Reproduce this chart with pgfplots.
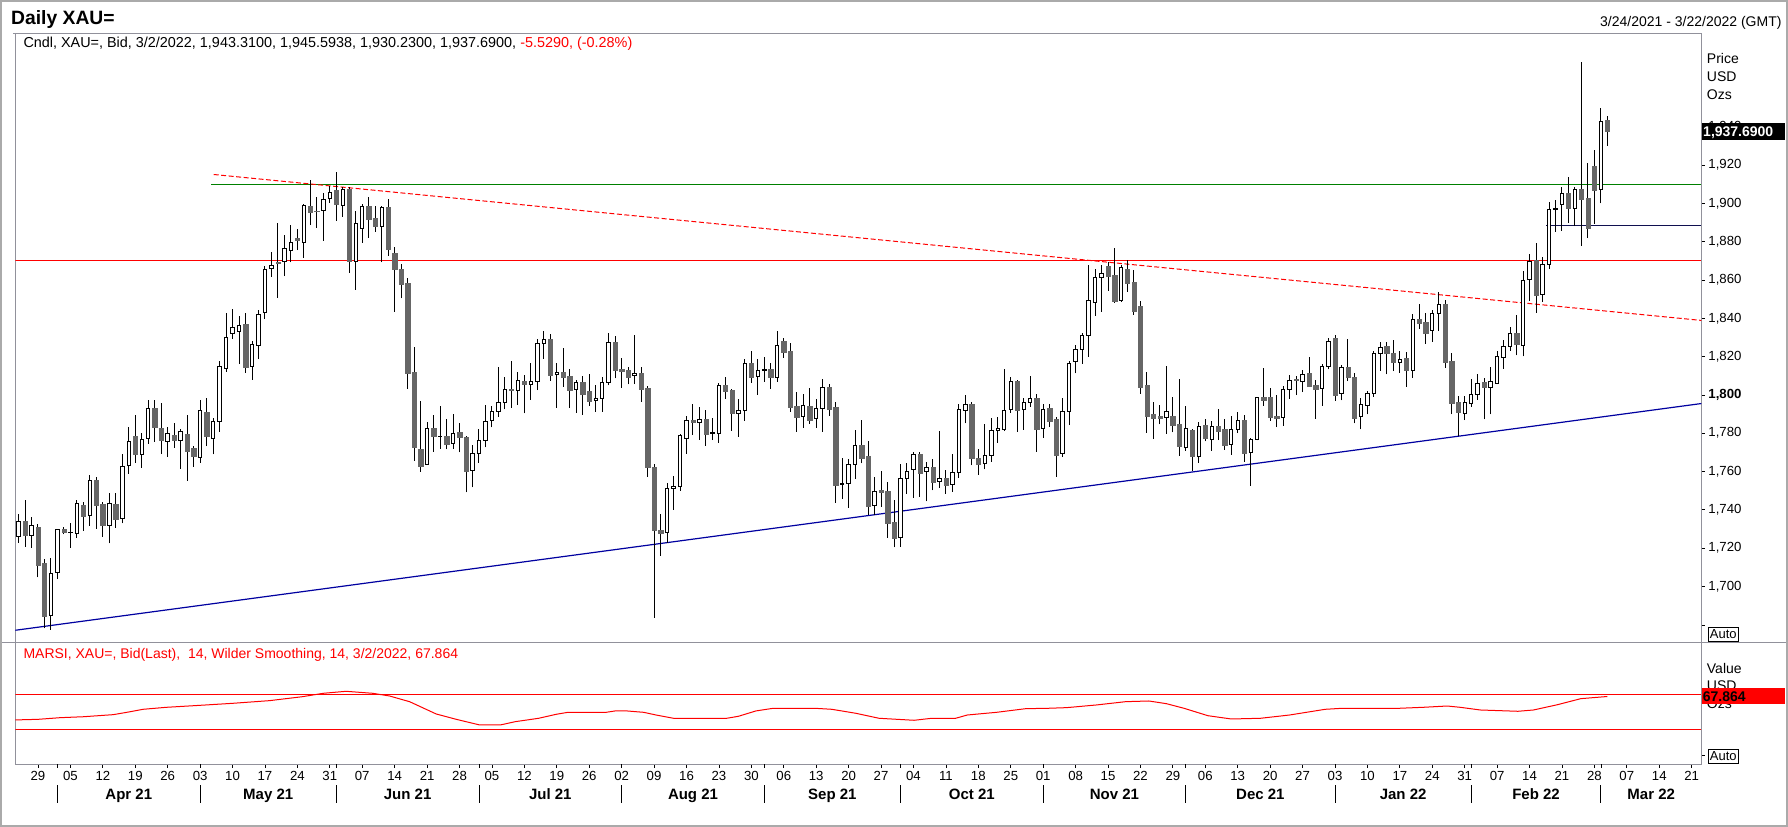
\documentclass[border=0pt]{standalone}
\usepackage{pgfplots}
\pgfplotsset{compat=1.18}
\usepackage{pgfplotstable}
\usepackage{fontspec}
\setmainfont{Liberation Sans}
\definecolor{candlegray}{RGB}{102,102,102}
\definecolor{framegray}{RGB}{145,145,155}
\definecolor{bordergray}{RGB}{170,170,170}
\definecolor{tlgreen}{RGB}{0,128,0}
\definecolor{tlblue}{RGB}{0,0,160}
\definecolor{tlnavy}{RGB}{16,16,80}

\pgfplotstableread{
i o h l c
0 1726.3 1737.8 1722.8 1734.1
1 1734.1 1745.1 1720.7 1726.5
2 1726.6 1736.2 1720.2 1731.9
3 1731.0 1732.6 1704.7 1711.3
4 1712.2 1714.3 1678.1 1684.2
5 1684.9 1714.6 1677.5 1706.8
6 1707.3 1729.9 1704.0 1729.9
7 1729.9 1731.0 1727.2 1728.5
8 1728.2 1732.9 1720.2 1728.4
9 1727.7 1745.1 1725.4 1743.5
10 1742.5 1744.0 1729.1 1736.9
11 1736.9 1758.1 1731.7 1755.4
12 1755.4 1757.1 1730.1 1742.6
13 1742.8 1744.2 1725.9 1732.2
14 1731.9 1748.7 1722.5 1743.5
15 1743.0 1748.7 1730.6 1735.3
16 1735.3 1769.1 1732.9 1762.7
17 1763.2 1783.2 1758.8 1775.7
18 1778.5 1789.5 1764.6 1768.8
19 1768.9 1779.9 1762.0 1776.8
20 1777.3 1797.3 1774.5 1793.0
21 1793.0 1797.3 1775.5 1783.4
22 1782.7 1795.7 1769.1 1776.6
23 1775.5 1783.2 1767.7 1779.9
24 1779.0 1785.3 1772.4 1776.1
25 1776.1 1782.2 1761.4 1780.9
26 1779.5 1789.5 1755.2 1770.8
27 1772.2 1773.3 1762.5 1768.2
28 1767.4 1797.3 1764.6 1791.9
29 1791.0 1798.3 1773.3 1778.2
30 1777.3 1787.7 1768.9 1786.1
31 1786.1 1817.5 1780.8 1814.9
32 1813.8 1842.7 1812.1 1830.2
33 1832.1 1844.8 1829.3 1835.4
34 1833.2 1841.2 1816.1 1836.5
35 1837.0 1842.7 1811.6 1814.7
36 1814.7 1827.9 1807.9 1826.5
37 1825.8 1844.6 1818.9 1842.2
38 1843.1 1867.4 1839.8 1865.7
39 1866.2 1874.6 1861.7 1867.6
40 1869.2 1889.9 1850.7 1868.7
41 1869.7 1883.5 1862.0 1876.5
42 1875.6 1888.7 1869.2 1879.6
43 1881.9 1886.6 1875.6 1880.7
44 1879.6 1899.6 1871.6 1898.9
45 1898.6 1912.2 1888.7 1895.6
46 1896.0 1903.1 1887.3 1895.8
47 1896.3 1905.4 1880.5 1902.1
48 1902.6 1909.0 1900.3 1905.9
49 1906.9 1916.3 1890.9 1899.8
50 1898.8 1908.7 1893.0 1907.3
51 1907.3 1908.7 1863.8 1869.9
52 1869.9 1896.0 1854.9 1889.5
53 1886.9 1899.6 1879.4 1898.4
54 1898.4 1903.1 1882.0 1892.0
55 1892.1 1898.6 1885.2 1888.0
56 1888.0 1898.9 1869.2 1897.9
57 1897.9 1902.1 1872.6 1876.0
58 1873.9 1877.0 1843.4 1865.5
59 1865.7 1868.6 1850.4 1858.0
60 1858.4 1861.3 1803.2 1811.5
61 1811.9 1824.8 1765.6 1772.9
62 1771.5 1796.8 1759.9 1763.0
63 1763.9 1785.6 1763.9 1782.5
64 1782.7 1789.3 1770.3 1778.3
65 1778.2 1794.0 1772.0 1778.4
66 1778.5 1787.4 1771.5 1774.5
67 1774.6 1790.0 1771.9 1779.9
68 1780.4 1785.3 1770.0 1777.8
69 1777.9 1778.5 1749.1 1760.4
70 1760.6 1773.8 1751.7 1769.4
71 1769.6 1782.1 1764.7 1776.0
72 1776.2 1794.7 1772.6 1786.1
73 1786.8 1794.0 1783.0 1791.4
74 1791.4 1814.5 1788.6 1796.1
75 1796.2 1809.3 1792.4 1802.9
76 1803.2 1817.6 1793.4 1802.5
77 1802.3 1811.9 1794.8 1807.5
78 1807.2 1810.3 1790.3 1805.5
79 1805.5 1816.8 1797.6 1807.0
80 1807.0 1829.1 1802.5 1826.9
81 1826.9 1833.3 1818.9 1829.0
82 1829.1 1831.9 1807.4 1810.5
83 1810.7 1816.6 1793.3 1811.7
84 1811.9 1824.4 1804.2 1809.5
85 1809.8 1813.3 1793.3 1802.7
86 1802.9 1807.6 1790.7 1806.5
87 1806.7 1809.8 1789.6 1800.6
88 1802.0 1810.9 1794.3 1796.9
89 1796.9 1805.1 1791.2 1798.2
90 1798.0 1809.1 1791.2 1806.5
91 1806.5 1832.3 1805.0 1827.4
92 1827.6 1830.7 1808.6 1813.0
93 1813.5 1819.2 1803.7 1812.6
94 1812.8 1814.5 1805.5 1809.5
95 1810.2 1831.2 1805.6 1811.2
96 1811.4 1814.5 1796.4 1803.2
97 1803.6 1804.6 1757.2 1762.0
98 1762.3 1763.9 1683.6 1729.1
99 1729.4 1737.8 1716.0 1728.0
100 1728.2 1754.0 1722.8 1751.2
101 1751.2 1757.6 1740.0 1752.2
102 1752.2 1779.5 1750.0 1778.8
103 1777.3 1788.9 1769.3 1786.8
104 1786.8 1795.2 1779.2 1785.6
105 1785.6 1793.6 1776.6 1787.4
106 1787.4 1792.1 1773.4 1779.7
107 1780.0 1788.1 1776.4 1780.2
108 1779.9 1806.2 1775.0 1805.0
109 1805.1 1809.3 1798.0 1802.2
110 1802.5 1803.0 1781.4 1790.2
111 1790.3 1797.8 1778.1 1791.9
112 1791.9 1818.7 1786.5 1816.4
113 1816.6 1822.9 1806.3 1809.5
114 1809.6 1818.7 1800.1 1812.8
115 1813.0 1819.7 1806.9 1813.2
116 1813.5 1816.6 1803.2 1809.0
117 1809.1 1833.3 1807.0 1825.8
118 1828.1 1829.7 1819.4 1822.5
119 1822.9 1827.1 1791.2 1793.8
120 1794.2 1801.5 1780.8 1788.6
121 1788.8 1800.4 1782.8 1794.5
122 1794.2 1803.6 1784.9 1787.0
123 1787.7 1797.8 1782.8 1792.9
124 1792.9 1808.3 1780.7 1803.9
125 1804.1 1805.8 1789.1 1792.4
126 1793.6 1796.1 1743.7 1753.1
127 1753.3 1767.0 1745.8 1753.5
128 1753.6 1766.5 1741.1 1763.7
129 1763.7 1781.6 1756.2 1773.6
130 1773.6 1786.8 1764.2 1767.2
131 1767.9 1775.9 1737.1 1742.1
132 1742.1 1757.1 1737.2 1749.6
133 1750.3 1760.4 1741.6 1749.4
134 1749.8 1754.3 1725.4 1733.2
135 1733.6 1745.1 1720.4 1725.4
136 1725.6 1763.9 1720.7 1756.4
137 1756.4 1764.4 1748.5 1760.0
138 1761.1 1770.1 1746.3 1768.9
139 1769.1 1770.1 1746.8 1759.3
140 1760.0 1764.9 1744.4 1762.0
141 1762.3 1766.5 1750.1 1754.6
142 1754.6 1781.1 1751.5 1756.4
143 1756.6 1760.7 1748.4 1753.1
144 1753.3 1769.1 1749.4 1759.5
145 1759.5 1795.5 1756.7 1792.4
146 1792.1 1799.9 1785.1 1795.0
147 1795.2 1796.1 1763.2 1766.7
148 1767.0 1771.5 1758.3 1764.0
149 1764.2 1784.9 1761.1 1768.4
150 1768.4 1788.1 1765.1 1781.5
151 1781.5 1788.6 1775.0 1782.5
152 1782.0 1813.5 1781.1 1791.9
153 1792.4 1809.3 1790.8 1807.0
154 1807.0 1807.6 1780.8 1792.2
155 1792.4 1798.5 1781.8 1796.1
156 1796.1 1809.8 1793.8 1798.2
157 1798.3 1800.4 1770.3 1782.3
158 1782.5 1795.4 1777.6 1792.4
159 1793.1 1795.4 1783.4 1786.5
160 1787.4 1788.6 1757.3 1768.7
161 1769.4 1798.3 1767.5 1791.4
162 1791.4 1817.8 1784.2 1816.4
163 1817.3 1826.0 1811.2 1823.9
164 1823.7 1832.1 1816.3 1830.9
165 1831.1 1867.8 1819.9 1849.5
166 1848.5 1865.5 1841.3 1861.3
167 1861.3 1868.1 1843.4 1863.4
168 1867.3 1869.5 1854.4 1861.9
169 1862.6 1876.5 1848.1 1849.0
170 1849.2 1867.8 1848.5 1866.7
171 1865.7 1870.4 1853.9 1858.2
172 1858.6 1865.2 1841.9 1843.9
173 1846.4 1849.0 1800.6 1804.2
174 1805.1 1811.9 1780.2 1789.1
175 1790.0 1796.2 1776.9 1788.1
176 1789.1 1794.7 1784.6 1788.1
177 1788.2 1815.0 1779.7 1791.4
178 1789.0 1798.9 1780.4 1784.4
179 1784.8 1808.3 1768.2 1773.4
180 1772.6 1794.2 1770.8 1782.5
181 1781.6 1782.0 1760.4 1768.1
182 1767.9 1785.8 1764.7 1783.5
183 1784.2 1787.4 1775.7 1777.6
184 1776.8 1786.3 1770.8 1783.5
185 1783.7 1792.6 1776.4 1781.3
186 1782.1 1787.4 1771.4 1774.0
187 1774.1 1788.8 1768.7 1782.0
188 1782.0 1790.9 1780.1 1786.7
189 1786.8 1789.3 1765.1 1769.8
190 1770.0 1777.6 1752.6 1776.7
191 1776.7 1799.0 1776.2 1798.7
192 1798.9 1814.0 1794.3 1797.0
193 1798.9 1803.4 1786.5 1788.6
194 1788.9 1799.9 1783.2 1787.6
195 1788.2 1804.6 1783.9 1802.9
196 1802.9 1810.2 1798.0 1807.6
197 1808.0 1810.0 1799.9 1807.6
198 1806.9 1812.8 1801.5 1810.7
199 1811.4 1819.7 1804.2 1804.8
200 1805.1 1807.7 1787.5 1803.2
201 1803.2 1816.1 1794.3 1814.9
202 1814.9 1829.5 1813.3 1827.9
203 1829.7 1831.2 1797.0 1800.1
204 1800.6 1815.7 1797.1 1814.5
205 1814.5 1829.3 1807.2 1809.0
206 1809.3 1811.6 1785.1 1788.1
207 1788.6 1798.2 1782.0 1795.0
208 1794.3 1802.0 1789.8 1800.8
209 1800.8 1822.7 1799.0 1821.7
210 1821.7 1827.6 1812.6 1824.8
211 1825.5 1827.6 1810.7 1821.7
212 1821.7 1828.6 1812.4 1817.0
213 1817.0 1822.9 1811.6 1818.5
214 1819.0 1822.5 1804.2 1813.1
215 1812.8 1842.5 1809.0 1839.4
216 1839.4 1847.4 1834.5 1837.7
217 1837.8 1842.7 1826.7 1832.4
218 1833.7 1844.1 1827.7 1842.5
219 1842.5 1853.5 1833.3 1847.2
220 1847.4 1849.5 1814.3 1817.3
221 1817.6 1821.8 1789.8 1795.9
222 1796.2 1799.5 1778.5 1790.8
223 1790.3 1799.4 1786.8 1796.1
224 1795.5 1808.4 1793.8 1800.4
225 1800.2 1810.9 1797.6 1806.2
226 1806.7 1808.8 1787.2 1803.9
227 1803.9 1814.7 1789.8 1807.0
228 1806.0 1822.7 1806.0 1820.1
229 1819.7 1828.6 1813.6 1825.5
230 1825.5 1835.6 1823.0 1832.1
231 1832.1 1841.8 1820.6 1826.4
232 1825.8 1864.8 1820.1 1859.9
233 1860.3 1873.7 1849.2 1869.9
234 1870.2 1879.3 1842.9 1852.3
235 1852.5 1872.1 1848.6 1868.1
236 1868.1 1900.7 1865.9 1896.8
237 1897.0 1901.7 1885.2 1897.4
238 1899.5 1908.7 1885.7 1905.2
239 1905.4 1913.9 1889.9 1897.7
240 1897.4 1908.7 1888.1 1907.3
241 1907.5 1973.8 1877.9 1902.4
242 1902.8 1921.0 1881.9 1886.8
243 1919.5 1927.8 1889.5 1907.1
244 1907.3 1949.8 1900.0 1943.0
245 1943.31 1945.59 1930.23 1937.69
}\candles

\pgfplotstableread{
i r
-0.5 40.8
3 41.5
6.4 43.4
10 44.5
14.6 46.9
17 50
19.2 53.1
22.8 55.4
28 57.7
33 60
38.7 63.1
43.8 67.7
47 71.6
50.5 73.9
54.6 71.6
57.2 68.5
60.3 61.9
64.4 47.7
67.5 41.5
71.1 35
74.3 35
76.6 38.8
80.2 42.7
82.9 47.3
84.7 49.6
90.6 49.6
92 51.2
93.8 51.2
96.4 49.6
98.3 46.5
101 42.7
109.2 42.7
111 45
113.7 51.2
116.4 54.3
122.7 54.3
125.4 53.1
129.1 48.5
132.7 42.7
138.1 40.4
140.8 42.7
144.5 42.7
146.3 46.5
150.8 49.6
155.3 53.8
158.9 54.3
161.6 55
166.2 58.1
170.7 61.9
174.3 62.7
177 59.6
179.7 54.3
183.4 45.7
187 41.9
191.5 42.7
196 46.5
201.5 53.1
204.2 54.3
213 54.3
216.6 55.4
220.3 56.9
222.3 55.4
225.4 52.3
231.2 50.8
233.6 52.3
237.3 58.4
240.9 65.4
245 67.9
}\rsi

\pgfplotsset{
  candle/.style={
    scatter, only marks, mark=*, mark size=0.5bp,
    visualization depends on={\thisrow{o}\as\vo},
    visualization depends on={\thisrow{h}\as\vh},
    visualization depends on={\thisrow{l}\as\vl},
    visualization depends on={\thisrow{c}\as\vc},
    scatter/@pre marker code/.code={%
      \pgfmathsetmacro\cdo{(\vo-\vc)*1.915}%
      \pgfmathsetmacro\cdh{(\vh-\vc)*1.915}%
      \pgfmathsetmacro\cdl{(\vl-\vc)*1.915}%
      \draw[black, line width=1bp] (0bp,\cdl bp) -- (0bp,\cdh bp);%
      \ifdim\vc pt<\vo pt
        \fill[candlegray] (-2.2bp,0bp) rectangle (2.2bp,\cdo bp);%
      \else
        \filldraw[fill=white, draw=black, line width=1bp] (-1.7bp,0bp) rectangle (1.7bp,\cdo bp);%
      \fi
      \scope[opacity=0]%
    },
    scatter/@post marker code/.code={\endscope},
  },
}

\begin{document}
\begin{tikzpicture}[font=\fontsize{14bp}{16bp}\selectfont]
\path[use as bounding box] (0bp,0bp) rectangle (1788bp,-827bp);
\fill[white] (0bp,0bp) rectangle (1788bp,-827bp);

% ---------- main price panel ----------
\begin{axis}[
  at={(15.3bp,-642.9bp)}, anchor=south west,
  x=6.485bp, y=1.915bp,
  xmin=-0.5, xmax=259.5, ymin=1670.5, ymax=1988.8,
  enlargelimits=false,
  axis line style={draw=framegray, line width=1bp},
  xtick=\empty,
  ytick={1700,1720,...,1940},
  yticklabels={{1,700},{1,720},{1,740},{1,760},{1,780},{\textbf{1,800}},{1,820},{1,840},{1,860},{1,880},{1,900},{1,920},{1,940}},
  ytick pos=right, yticklabel pos=right,
  tick align=outside, major tick length=3.5bp,
  tick style={black, line width=0.8bp},
  yticklabel style={font=\fontsize{13.2bp}{15bp}\selectfont, anchor=west},
]
\addplot[candle] table[x=i,y=c] {\candles};
\addplot[red, line width=1bp] coordinates {(-0.5,1870) (259.5,1870)};
\addplot[tlgreen, line width=1bp] coordinates {(29.7,1910) (259.5,1910)};
\addplot[red, line width=1bp, dash pattern=on 5bp off 2.5bp] coordinates {(30.1,1915.1) (259.5,1838.9)};
\addplot[tlblue, line width=1.2bp] coordinates {(-0.5,1677.1) (259.5,1795.5)};
\addplot[tlnavy, line width=1bp] coordinates {(235.6,1888.5) (259.5,1888.5)};
\end{axis}

% ---------- RSI panel ----------
\begin{axis}[
  at={(15.3bp,-764.3bp)}, anchor=south west,
  x=6.485bp, y=0.865bp,
  xmin=-0.5, xmax=259.5, ymin=-10.5, ymax=130.1,
  enlargelimits=false,
  axis line style={draw=framegray, line width=1bp},
  xtick={3,8,...,258},
  xticklabels={29,05,12,19,26,03,10,17,24,31,07,14,21,28,05,12,19,26,02,09,16,23,30,06,13,20,27,04,11,18,25,01,08,15,22,29,06,13,20,27,03,10,17,24,31,07,14,21,28,07,14,21},
  extra x ticks={6,28,49,71,93,115,136,158,180,203,224,244},
  extra x tick labels={},
  xtick pos=left, ytick pos=right,
  ytick={0}, yticklabels={},
  tick align=outside, major tick length=3.5bp,
  tick style={black, line width=0.8bp},
  xticklabel style={font=\fontsize{13.2bp}{15bp}\selectfont},
]
\addplot[red, line width=1bp] coordinates {(-0.5,70) (259.5,70)};
\addplot[red, line width=1bp] coordinates {(-0.5,30) (259.5,30)};
\addplot[red, line width=1bp] table[x=i,y=r] {\rsi};
\end{axis}

% divider and outer border
\draw[framegray, line width=1bp] (0bp,-642.9bp) -- (1788bp,-642.9bp);
\draw[framegray, line width=1bp] (13.3bp,-33.3bp) -- (15.3bp,-33.3bp);
\draw[bordergray, line width=2bp] (1bp,-1bp) rectangle (1787bp,-826bp);

% titles
\node[anchor=base west, inner sep=0pt, font=\fontsize{19.3bp}{22bp}\selectfont\bfseries] at (11bp,-24bp) {Daily XAU=};
\node[anchor=base east, inner sep=0pt] at (1781.7bp,-26.5bp) {3/24/2021 - 3/22/2022 (GMT)};
\node[anchor=base west, inner sep=0pt, font=\fontsize{14.4bp}{16bp}\selectfont] at (23.3bp,-47.3bp) {Cndl, XAU=, Bid, 3/2/2022, 1,943.3100, 1,945.5938, 1,930.2300, 1,937.6900, \textcolor{red}{-5.5290, (-0.28\%)}};
\node[anchor=base west, inner sep=0pt, text=red] at (23.3bp,-658.3bp) {MARSI, XAU=, Bid(Last),\ \ 14, Wilder Smoothing, 14, 3/2/2022, 67.864};

% right side labels, main panel
\node[anchor=base west, inner sep=0pt] at (1706.7bp,-63.3bp) {Price};
\node[anchor=base west, inner sep=0pt] at (1706.7bp,-81.7bp) {USD};
\node[anchor=base west, inner sep=0pt] at (1706.7bp,-99bp) {Ozs};
\fill[black] (1701.7bp,-123.3bp) rectangle (1785bp,-140bp);
\node[anchor=base west, inner sep=0pt, text=white, font=\fontsize{14bp}{16bp}\selectfont\bfseries] at (1703bp,-136.7bp) {1,937.6900};
\draw[black, line width=0.8bp] (1701.7bp,-625bp) -- (1705.2bp,-625bp);
\draw[black, line width=0.8bp] (1708.3bp,-627.3bp) rectangle (1738.3bp,-641.3bp);
\node[anchor=base, inner sep=0pt, font=\fontsize{13bp}{15bp}\selectfont] at (1723.3bp,-638.8bp) {Auto};

% right side labels, RSI panel
\node[anchor=base west, inner sep=0pt] at (1706.7bp,-673.3bp) {Value};
\node[anchor=base west, inner sep=0pt] at (1706.7bp,-690bp) {USD};
\node[anchor=base west, inner sep=0pt] at (1706.7bp,-708.3bp) {Ozs};
\fill[red] (1701.7bp,-688.3bp) rectangle (1785bp,-703.7bp);
\node[anchor=base west, inner sep=0pt, font=\fontsize{14bp}{16bp}\selectfont\bfseries] at (1702.7bp,-701bp) {67.864};
\draw[black, line width=0.8bp] (1708.3bp,-749bp) rectangle (1738.3bp,-763.3bp);
\node[anchor=base, inner sep=0pt, font=\fontsize{13bp}{15bp}\selectfont] at (1723.3bp,-760.7bp) {Auto};

% month separators and labels
\foreach \xm in {57.45,200.1,336.3,479.0,621.6,764.3,900.5,1043.2,1185.8,1335.0,1471.2,1600.9}
  \draw[black, line width=1bp] (\xm bp,-785bp) -- (\xm bp,-803.3bp);
\foreach \xm/\lab in {128.8/Apr 21,268.2/May 21,407.6/Jun 21,550.3/Jul 21,693.0/Aug 21,832.4/Sep 21,971.8/Oct 21,1114.4/Nov 21,1260.4/Dec 21,1403.1/Jan 22,1536.0/Feb 22,1651.2/Mar 22}
  \node[anchor=base, inner sep=0pt, font=\fontsize{15bp}{17bp}\selectfont\bfseries] at (\xm bp,-799.3bp) {\lab};
\end{tikzpicture}
\end{document}
